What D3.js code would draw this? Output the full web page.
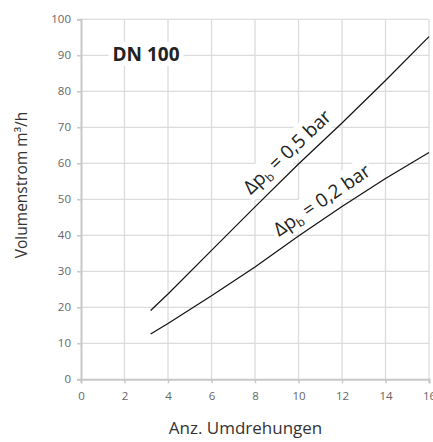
<!DOCTYPE html>
<html>
<head>
<meta charset="utf-8">
<script src="https://cdn.jsdelivr.net/npm/d3@7"></script>
<style>
  body { margin: 0; background: #fff; }
  svg { display: block; font-family: "Open Sans", sans-serif; }
</style>
</head>
<body>
<svg id="chart"></svg>
<script>
const width = 433;
const height = 442;

// data
const xTicks = [0, 2, 4, 6, 8, 10, 12, 14, 16];
const yTicks = [0, 10, 20, 30, 40, 50, 60, 70, 80, 90, 100];
const turns = [3.2, 4, 6, 8, 10, 12, 14, 16];
const flow05 = [19.1, 23.7, 35.8, 47.9, 59.8, 71.2, 83.0, 95.2];
const flow02 = [12.6, 15.5, 23.2, 31.2, 39.8, 48.0, 55.8, 63.0];
const curveLabels = ["0,5 bar", "0,2 bar"];
const labelAt = [10.0, 11.5];

const margin = {top: 19.3, right: 4, bottom: 62.7, left: 81};

const svg = d3.select("#chart")
    .attr("width", width)
    .attr("height", height);

const x = d3.scaleLinear().domain([0, 16]).range([margin.left, 429]);
const y = d3.scaleLinear().domain([0, 100]).range([height - margin.bottom, margin.top]);

// grid
svg.append("g")
    .selectAll("line")
    .data(xTicks.slice(1))
  .enter().append("line")
    .attr("x1", d => x(d)).attr("x2", d => x(d))
    .attr("y1", y(0)).attr("y2", y(100))
    .attr("stroke", "#dcdcdc")
    .attr("stroke-width", 1.3);

svg.append("g")
    .selectAll("line")
    .data(yTicks.slice(1))
  .enter().append("line")
    .attr("x1", x(0)).attr("x2", x(16))
    .attr("y1", d => y(d)).attr("y2", d => y(d))
    .attr("stroke", "#dcdcdc")
    .attr("stroke-width", 1.3);

// axes
const xAxis = svg.append("g")
    .attr("transform", `translate(0,${y(0)})`)
    .call(d3.axisBottom(x).tickValues(xTicks).tickSize(4).tickPadding(9).tickFormat(d3.format("d")));

const yAxis = svg.append("g")
    .attr("transform", `translate(${x(0)},0)`)
    .call(d3.axisLeft(y).tickValues(yTicks).tickSize(4).tickPadding(6).tickFormat(d3.format("d")));

[xAxis, yAxis].forEach(a => {
    a.select(".domain").attr("stroke", "#c8c8c8").attr("stroke-width", 2);
    a.selectAll(".tick line").attr("stroke", "#c8c8c8").attr("stroke-width", 1.5);
    a.selectAll("text")
        .attr("fill", "#666")
        .style("font-size", "11.5px")
        .style("font-family", "'Open Sans', sans-serif");
});

// axis titles
svg.append("text")
    .attr("x", 245.5)
    .attr("y", 434)
    .attr("text-anchor", "middle")
    .attr("fill", "#333")
    .style("font-size", "17px")
    .text("Anz. Umdrehungen");

svg.append("text")
    .attr("transform", "translate(27,185) rotate(-90)")
    .attr("text-anchor", "middle")
    .attr("fill", "#333")
    .style("font-size", "15.5px")
    .text("Volumenstrom m³/h");

// title box
const title = svg.append("g").attr("transform", "translate(146,61)");
const titleBg = title.append("rect").attr("fill", "#fff");
const titleText = title.append("text")
    .attr("text-anchor", "middle")
    .attr("fill", "#222")
    .style("font-size", "19px")
    .style("font-weight", "bold")
    .text("DN 100");
const tb = titleText.node().getBBox();
titleBg.attr("x", tb.x - 4).attr("y", tb.y + 1).attr("width", tb.width + 8).attr("height", tb.height - 2);

// curves
const series = [flow05, flow02];
const line = d3.line()
    .x((d, i) => x(turns[i]))
    .y(d => y(d));

series.forEach((s, k) => {
    // label along the curve
    const t = labelAt[k];
    const i = d3.bisectRight(turns, t) - 1;
    const f = (t - turns[i]) / (turns[i + 1] - turns[i]);
    const v = s[i] + f * (s[i + 1] - s[i]);
    const ang = Math.atan2(y(s[i + 1]) - y(s[i]), x(turns[i + 1]) - x(turns[i])) * 180 / Math.PI;

    const g = svg.append("g")
        .attr("transform", `translate(${x(t)},${y(v)}) rotate(${ang}) translate(0,-10)`);
    const bg = g.append("rect").attr("fill", "#fff");
    const txt = g.append("text")
        .attr("text-anchor", "middle")
        .attr("fill", "#222")
        .style("font-size", "19px");
    txt.append("tspan").text("Δp");
    txt.append("tspan").attr("dy", 4).style("font-size", "12px").text("b");
    txt.append("tspan").attr("dy", -4).text(" = " + curveLabels[k]);
    const b = txt.node().getBBox();
    bg.attr("x", b.x - 3).attr("y", b.y).attr("width", b.width + 6).attr("height", b.height - 2);

    svg.append("path")
        .attr("d", line(s))
        .attr("fill", "none")
        .attr("stroke", "#111")
        .attr("stroke-width", 1.2);
});
</script>
</body>
</html>
